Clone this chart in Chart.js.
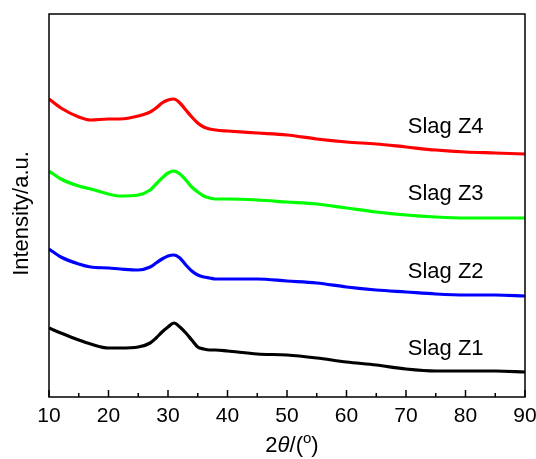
<!DOCTYPE html>
<html>
<head>
<meta charset="utf-8">
<script src="https://cdn.jsdelivr.net/npm/chart.js@4/dist/chart.umd.min.js"></script>
<style>
  html, body { margin: 0; padding: 0; background: #fff; }
</style>
</head>
<body>
<canvas id="xrdChart" width="536" height="459"></canvas>
<script>
// ---------------- data ----------------
const twoTheta = [10, 12, 15, 17, 20, 22, 25, 27, 28, 29, 30, 31, 32, 33, 34, 35, 36, 37, 38, 40, 45, 50, 55, 60, 65, 70, 75, 80, 85, 90];

const slagZ1 = [69, 64, 57, 53, 49, 49, 50, 54, 59, 65, 70, 74, 70, 64, 57, 50, 48, 47, 47, 46, 43, 42, 39, 35, 32, 28, 26, 26, 26, 25];
const slagZ2 = [148, 140, 133, 130, 129, 128, 127, 130, 134, 138, 141, 142, 139, 132, 126, 122, 120, 119, 118, 118, 118, 116, 114, 110, 107, 105, 103, 102, 102, 101];
const slagZ3 = [226, 218, 211, 208, 203, 201, 202, 207, 213, 219, 224, 226, 223, 217, 210, 205, 201, 199, 198, 198, 197, 195, 193, 189, 185, 182, 180, 179, 179, 179];
const slagZ4 = [298, 289, 280, 277, 278, 278, 281, 285, 289, 294, 297, 298, 294, 287, 280, 274, 270, 268, 267, 266, 264, 262, 258, 255, 253, 250, 247, 245, 244, 243];

const seriesNames = ['Slag Z1', 'Slag Z2', 'Slag Z3', 'Slag Z4'];
const xTickValues = [10, 20, 30, 40, 50, 60, 70, 80, 90];

// where the sample names sit (data units)
const labelX = 70.3;
const labelY = [48, 125, 203, 270];

const colors = ['#000000', '#0000ff', '#00ff00', '#ff0000'];
const FONT = '"Liberation Sans", Arial, sans-serif';

function toPoints(vals) {
    return twoTheta.map((t, i) => ({ x: t, y: vals[i] }));
}

const allSeries = [slagZ1, slagZ2, slagZ3, slagZ4];
const datasets = allSeries.map((vals, i) => ({
    label: seriesNames[i],
    data: toPoints(vals),
    borderColor: colors[i],
    borderWidth: 3.2,
    pointRadius: 0,
    cubicInterpolationMode: 'monotone',
    fill: false
}));

// frame, inward ticks, axis titles and sample names
const decorPlugin = {
    id: 'decor',
    afterDraw(chart) {
        const ctx = chart.ctx;
        const a = chart.chartArea;
        const xs = chart.scales.x;
        const ys = chart.scales.y;
        ctx.save();
        ctx.strokeStyle = '#000';
        ctx.lineWidth = 1.5;
        ctx.strokeRect(a.left, a.top, a.right - a.left, a.bottom - a.top);

        for (let v = 10; v <= 90; v += 5) {
            const px = xs.getPixelForValue(v);
            const len = (v % 10 === 0) ? 7 : 4;
            ctx.beginPath();
            ctx.moveTo(px, a.bottom);
            ctx.lineTo(px, a.bottom - len);
            ctx.stroke();
        }

        ctx.fillStyle = '#000';
        ctx.textBaseline = 'middle';

        // sample names
        ctx.font = '22px ' + FONT;
        ctx.textAlign = 'left';
        for (let i = 0; i < seriesNames.length; i++) {
            ctx.fillText(seriesNames[i], xs.getPixelForValue(labelX), ys.getPixelForValue(labelY[i]));
        }

        // x title: 2θ/(°) with italic theta and a raised "o"
        const parts = [['2', '', 22, 0], ['θ', 'italic ', 22, 0], ['/(', '', 22, 0], ['o', '', 15, -7], [')', '', 22, 0]];
        let total = 0;
        parts.forEach(p => { ctx.font = p[1] + p[2] + 'px ' + FONT; total += ctx.measureText(p[0]).width; });
        let tx = (a.left + a.right) / 2 + 5 - total / 2;
        const ty = 446;
        ctx.textAlign = 'left';
        parts.forEach(p => {
            ctx.font = p[1] + p[2] + 'px ' + FONT;
            ctx.fillText(p[0], tx, ty + p[3]);
            tx += ctx.measureText(p[0]).width;
        });

        // y title
        ctx.font = '22px ' + FONT;
        ctx.translate(22, (a.top + a.bottom) / 2 + 8);
        ctx.rotate(-Math.PI / 2);
        ctx.textAlign = 'center';
        ctx.fillText('Intensity/a.u.', 0, 0);
        ctx.restore();
    }
};

const ctx = document.getElementById('xrdChart').getContext('2d');
const xrdChart = new Chart(ctx, {
    type: 'line',
    data: { datasets: datasets },
    plugins: [decorPlugin],
    options: {
        responsive: false,
        animation: false,
        layout: { padding: { left: 49, right: 11, top: 14, bottom: 0 } },
        plugins: {
            legend: { display: false },
            tooltip: { enabled: false }
        },
        scales: {
            x: {
                type: 'linear',
                min: 10,
                max: 90,
                afterBuildTicks: (s) => { s.ticks = xTickValues.map(v => ({ value: v })); },
                afterFit: (s) => { s.height = 62; s.paddingLeft = 0; s.paddingRight = 0; },
                grid: { display: false, drawTicks: false },
                border: { display: false },
                ticks: {
                    color: '#000',
                    padding: 7,
                    maxRotation: 0,
                    autoSkip: false,
                    font: { family: FONT, size: 21 }
                }
            },
            y: {
                display: false,
                min: 0,
                max: 383
            }
        }
    }
});
</script>
</body>
</html>
